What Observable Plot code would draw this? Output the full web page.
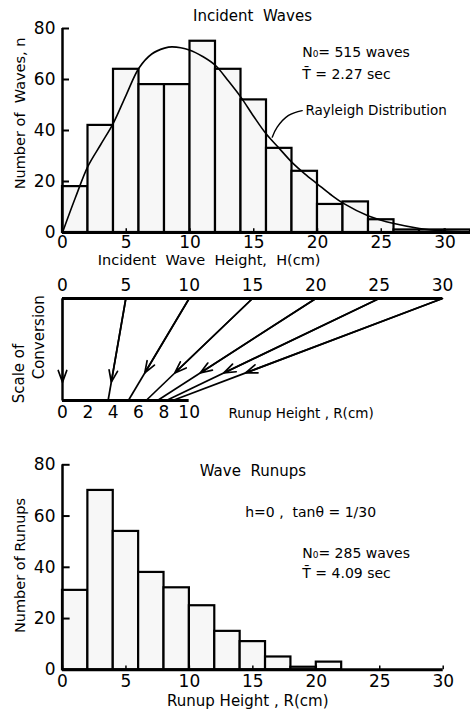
<!DOCTYPE html>
<html><head><meta charset="utf-8">
<script src="https://cdn.jsdelivr.net/npm/d3@7"></script>
<script src="https://cdn.jsdelivr.net/npm/@observablehq/plot@0.6"></script>
<style>
body{margin:0;background:#fff;}
#wrap{position:relative;width:470px;height:711px;overflow:hidden;background:#fff;}
#wrap > div{position:absolute;left:0;}
</style></head><body>
<div id="wrap"><div id="p1" style="top:0px"></div><div id="p2" style="top:270px"></div><div id="p3" style="top:432px"></div></div>
<script>
// ---- data ----
const binWidth = 2;
const incidentBinStart = [0,2,4,6,8,10,12,14,16,18,20,22,24,26,28,30];
const incidentCounts   = [18,42,64,58,58,75,64,52,33,24,11,12,5,1,1,1];
const rayleighH = [0,1,2,3,4,5,6,7,8,8.6,10,11,12,13,14,15,16,17,18,19,20,21,22,24,26,28,30,32];
const rayleighN = [0,13.5,26,34.5,43,54,64.5,70,72.3,72.8,71.5,69,65.5,59.5,53,45.5,38.5,33,27.5,23,19,15,11.5,6.5,3.5,1.6,0.6,0.2];
const heightTicks = [0,5,10,15,20,25,30];
const countTicks = [0,20,40,60,80];
const conversionH = [0,5,10,15,20,25,30];
const conversionR = [0,3.6,5.2,6.6,7.5,8.2,8.7];
const runupTicks = [0,2,4,6,8,10];
const runupBinStart = [0,2,4,6,8,10,12,14,16,18,20,22,24,26,28];
const runupCounts   = [31,70,54,38,32,25,15,11,5,1,3,0,0,0,0];

const FONT = "DejaVu Sans, sans-serif";
const FILL = "#f7f7f7";
const incident = incidentBinStart.map((x, i) => ({x1: x, x2: x + binWidth, n: incidentCounts[i]}));
const rayleigh = rayleighH.map((h, i) => ({H: h, n: rayleighN[i]}));
const conversion = conversionH.map((h, i) => ({H: h, R: conversionR[i], f: i < 2 ? 0.82 : 0.73}));
const runups = runupBinStart.map((x, i) => ({x1: x, x2: x + binWidth, n: runupCounts[i]}));

const baseStyle = {fontFamily: FONT, fontSize: "17px", color: "black", background: "transparent"};

// ---- top: incident waves ----
const p1 = Plot.plot({
  width: 470, height: 270,
  marginLeft: 62, marginRight: 0, marginTop: 28, marginBottom: 38,
  x: {domain: [0, 32]}, y: {domain: [0, 80]},
  style: baseStyle,
  marks: [
    Plot.rectY(incident, {x1: "x1", x2: "x2", y: "n", fill: FILL, stroke: "black", strokeWidth: 2.2}),
    Plot.line(rayleigh, {x: "H", y: "n", curve: "catmull-rom", stroke: "black", strokeWidth: 1.6}),
    Plot.ruleY([0], {x1: 0, x2: 32, stroke: "black", strokeWidth: 3}),
    Plot.ruleX([0], {y1: 0, y2: 80, stroke: "black", strokeWidth: 2.5}),
    Plot.ruleY(countTicks, {x1: 0, x2: 0.55, stroke: "black", strokeWidth: 2}),
    Plot.ruleX(heightTicks, {y1: 0, y2: 1.5, stroke: "black", strokeWidth: 1.5}),
    Plot.axisX({ticks: heightTicks, tickSize: 0, tickPadding: 3, label: null}),
    Plot.axisY({ticks: countTicks, tickSize: 0, tickPadding: 7, label: null}),
    Plot.line([{H: 18.8, n: 47.8}, {H: 17.73, n: 45.9}, {H: 16.84, n: 41.3}, {H: 16.45, n: 37.4}],
      {x: "H", y: "n", curve: "natural", stroke: "black", strokeWidth: 1.4}),
    Plot.text(["Incident  Waves"], {x: 14.9, y: 85.0, fontSize: 15, textAnchor: "middle", lineAnchor: "middle"}),
    Plot.text(["N\u2080= 515 waves"], {x: 18.8, y: 70.4, fontSize: 14, textAnchor: "start", lineAnchor: "middle"}),
    Plot.text(["T\u0304 = 2.27 sec"], {x: 18.8, y: 61.8, fontSize: 14, textAnchor: "start", lineAnchor: "middle"}),
    Plot.text(["Rayleigh Distribution"], {x: 19.06, y: 47.6, fontSize: 13.5, textAnchor: "start", lineAnchor: "middle"}),
    Plot.text(["Number of  Waves, n"], {x: -3.3, y: 46.7, rotate: -90, fontSize: 14.5, textAnchor: "middle", lineAnchor: "middle"}),
    Plot.text(["Incident  Wave  Height,  H(cm)"], {x: 11.5, y: -11.1, fontSize: 14.5, textAnchor: "middle", lineAnchor: "middle"})
  ]
});
document.getElementById("p1").append(p1);

// ---- middle: scale of conversion ----
const p2 = Plot.plot({
  width: 470, height: 162,
  marginLeft: 62, marginRight: 28, marginTop: 28, marginBottom: 32,
  x: {domain: [0, 30]}, y: {domain: [0, 1], axis: null},
  style: baseStyle,
  marks: [
    Plot.ruleY([1], {x1: 0, x2: 30, stroke: "black", strokeWidth: 3}),
    Plot.ruleY([0], {x1: 0, x2: 10, stroke: "black", strokeWidth: 3}),
    Plot.link(conversion, {x1: "H", y1: 1, x2: "R", y2: 0, stroke: "black", strokeWidth: d => d.H === 0 ? 2.4 : 1.7}),
    Plot.arrow(conversion, {x1: "H", y1: 1, x2: d => d.H + d.f * (d.R - d.H), y2: d => 1 - d.f,
      stroke: "black", strokeWidth: 1.7, headLength: 11, headAngle: 40}),
    Plot.axisX({anchor: "top", ticks: heightTicks, tickSize: 0, tickPadding: 8, label: null}),
    Plot.axisX({anchor: "bottom", ticks: runupTicks, tickSize: 0, tickPadding: 5, label: null}),
    Plot.text(["Scale of"], {x: -3.39, y: 0.265, rotate: -90, fontSize: 15, textAnchor: "middle", lineAnchor: "middle"}),
    Plot.text(["Conversion"], {x: -1.82, y: 0.62, rotate: -90, fontSize: 15, textAnchor: "middle", lineAnchor: "middle"}),
    Plot.text(["Runup Height , R(cm)"], {x: 13.1, y: -0.125, fontSize: 13.5, textAnchor: "start", lineAnchor: "middle"})
  ]
});
document.getElementById("p2").append(p2);

// ---- bottom: wave runups ----
const p3 = Plot.plot({
  width: 470, height: 279,
  marginLeft: 62, marginRight: 27.3, marginTop: 32.3, marginBottom: 41.7,
  x: {domain: [0, 30]}, y: {domain: [0, 80]},
  style: baseStyle,
  marks: [
    Plot.rectY(runups.filter(d => d.n > 0), {x1: "x1", x2: "x2", y: "n", fill: FILL, stroke: "black", strokeWidth: 2.2}),
    Plot.ruleY([0], {x1: 0, x2: 30, stroke: "black", strokeWidth: 3}),
    Plot.ruleX([0], {y1: 0, y2: 80, stroke: "black", strokeWidth: 2.5}),
    Plot.ruleY(countTicks, {x1: 0, x2: 0.6, stroke: "black", strokeWidth: 2}),
    Plot.ruleX(heightTicks, {y1: 0, y2: 1.5, stroke: "black", strokeWidth: 1.5}),
    Plot.axisX({ticks: heightTicks, tickSize: 0, tickPadding: 5, label: null}),
    Plot.axisY({ticks: countTicks, tickSize: 0, tickPadding: 7, label: null}),
    Plot.text(["Wave  Runups"], {x: 15.0, y: 77.7, fontSize: 15, textAnchor: "middle", lineAnchor: "middle"}),
    Plot.text(["h=0 ,  tan\u03b8 = 1/30"], {x: 14.4, y: 61.2, fontSize: 14, textAnchor: "start", lineAnchor: "middle"}),
    Plot.text(["N\u2080= 285 waves"], {x: 18.9, y: 45.2, fontSize: 14, textAnchor: "start", lineAnchor: "middle"}),
    Plot.text(["T\u0304 = 4.09 sec"], {x: 18.9, y: 37.4, fontSize: 14, textAnchor: "start", lineAnchor: "middle"}),
    Plot.text(["Number of Runups"], {x: -3.3, y: 40.7, rotate: -90, fontSize: 14.5, textAnchor: "middle", lineAnchor: "middle"}),
    Plot.text(["Runup Height , R(cm)"], {x: 14.6, y: -12.1, fontSize: 15, textAnchor: "middle", lineAnchor: "middle"})
  ]
});
document.getElementById("p3").append(p3);
</script>
</body></html>
